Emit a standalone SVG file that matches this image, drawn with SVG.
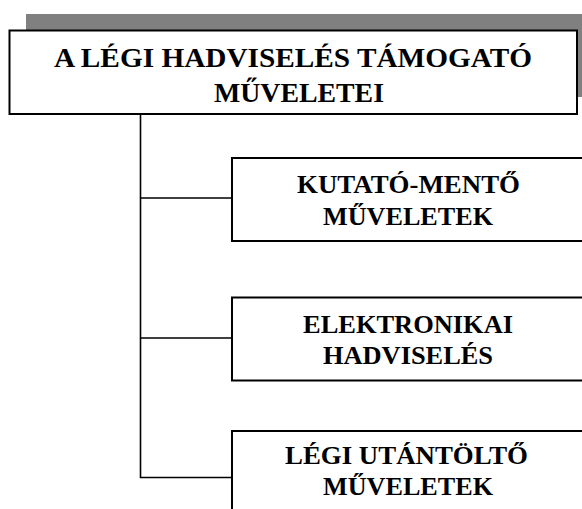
<svg xmlns="http://www.w3.org/2000/svg" width="582" height="509" viewBox="0 0 582 509">
<style>
.box{fill:#fff;stroke:#000;stroke-width:2}
.t{font-family:"Liberation Serif","Times New Roman",serif;font-weight:bold;text-anchor:middle;fill:#000}
.title{font-size:28px}
.sub{font-size:24.5px}
.conn{fill:none;stroke:#000;stroke-width:1.6}
</style>
<rect width="582" height="509" fill="#fff"/>
<g id="shadow"><rect x="26" y="14" width="570" height="83" fill="#808080"/></g>
<g id="connectors">
<path class="conn" d="M140.5,114 V477.5 H232 M140.5,198 H232 M140.5,338 H232"/>
</g>
<g id="root">
<rect class="box" x="9.5" y="30.5" width="567.5" height="83.5"/>
<text class="t title" x="293" y="67" textLength="478" lengthAdjust="spacingAndGlyphs">A LÉGI HADVISELÉS TÁMOGATÓ</text>
<text class="t title" x="299" y="102" textLength="170" lengthAdjust="spacingAndGlyphs">MŰVELETEI</text>
</g>
<g id="n1">
<rect class="box" x="232" y="158" width="360" height="83"/>
<text class="t sub" x="408.5" y="192.5" textLength="223" lengthAdjust="spacingAndGlyphs">KUTATÓ-MENTŐ</text>
<text class="t sub" x="408" y="224.5" textLength="170" lengthAdjust="spacingAndGlyphs">MŰVELETEK</text>
</g>
<g id="n2">
<rect class="box" x="232" y="297.5" width="360" height="83"/>
<text class="t sub" x="408" y="332.5" textLength="210" lengthAdjust="spacingAndGlyphs">ELEKTRONIKAI</text>
<text class="t sub" x="408" y="363.5" textLength="170" lengthAdjust="spacingAndGlyphs">HADVISELÉS</text>
</g>
<g id="n3">
<rect class="box" x="232" y="431" width="360" height="90"/>
<text class="t sub" x="406.5" y="463.5" textLength="243" lengthAdjust="spacingAndGlyphs">LÉGI UTÁNTÖLTŐ</text>
<text class="t sub" x="408" y="494.5" textLength="170" lengthAdjust="spacingAndGlyphs">MŰVELETEK</text>
</g>
</svg>
